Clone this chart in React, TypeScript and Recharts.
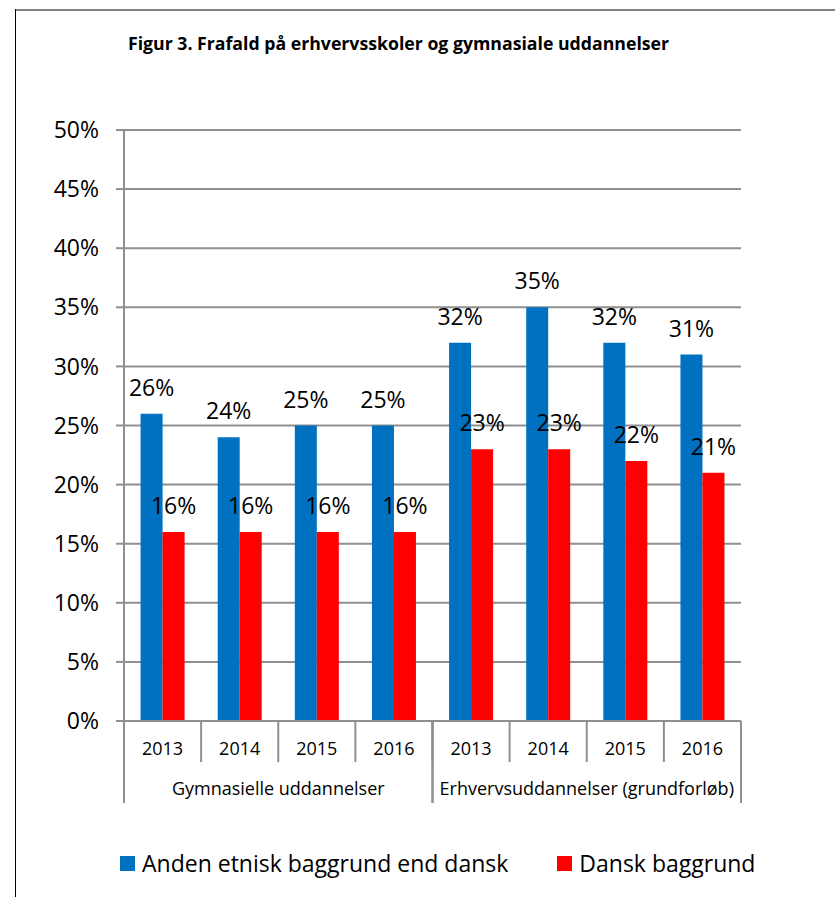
import React from "react";
import { BarChart, Bar, XAxis, YAxis, CartesianGrid, Legend, LabelList } from "recharts";

const title = "Figur 3. Frafald på erhvervsskoler og gymnasiale uddannelser";
const groups = ["Gymnasielle uddannelser", "Erhvervsuddannelser (grundforløb)"];
const years = ["2013", "2014", "2015", "2016"];
const andenValues = [26, 24, 25, 25, 32, 35, 32, 31];
const danskValues = [16, 16, 16, 16, 23, 23, 22, 21];
const yTicks = [0, 5, 10, 15, 20, 25, 30, 35, 40, 45, 50];
const seriesNames = ["Anden etnisk baggrund end dansk", "Dansk baggrund"];

const data = groups.flatMap((g, gi) =>
  years.map((y, yi) => ({
    key: `${gi}-${y}`,
    group: g,
    year: y,
    anden: andenValues[gi * years.length + yi],
    dansk: danskValues[gi * years.length + yi],
  }))
);

const GRID = "#8f8f8f";
const FONT = "'Open Sans', sans-serif";

function CategoryTick(props: any) {
  const { x, y, payload } = props;
  const index = props.index ?? payload?.index ?? 0;
  const half = payload?.offset || 38.6;
  const pos = index % years.length;
  const gi = Math.floor(index / years.length);
  const groupWidth = half * 2 * years.length;
  const left = x - half;
  return (
    <g>
      <text x={x} y={y + 33.5} textAnchor="middle" fontSize={18} fill="#000">
        {data[index].year}
      </text>
      <line x1={x + half} x2={x + half} y1={y} y2={y + 41} stroke={GRID} strokeWidth={2} />
      {pos === 0 && (
        <>
          <line x1={left} x2={left} y1={y} y2={y + 82} stroke={GRID} strokeWidth={2} />
          <text x={left + groupWidth / 2} y={y + 73.5} textAnchor="middle" fontSize={18} fill="#000">
            {groups[gi]}
          </text>
        </>
      )}
      {pos === years.length - 1 && (
        <line x1={x + half} x2={x + half} y1={y} y2={y + 82} stroke={GRID} strokeWidth={2} />
      )}
    </g>
  );
}

function renderLegend(props: any) {
  const { payload } = props;
  return (
    <div style={{ display: "flex", alignItems: "center", paddingLeft: 120, height: 36 }}>
      {(payload || []).map((e: any, i: number) => (
        <div key={i} style={{ display: "flex", alignItems: "center", marginLeft: i ? 49 : 0 }}>
          <span style={{ display: "inline-block", width: 15, height: 15, background: e.color, marginRight: 7 }} />
          <span style={{ fontSize: 23, lineHeight: "36px", color: "#000" }}>{e.value}</span>
        </div>
      ))}
    </div>
  );
}

export default function App() {
  return (
    <div style={{ position: "absolute", left: 0, top: 0, width: 835, height: 897, background: "#fff", fontFamily: FONT }}>
      <div style={{ position: "absolute", left: 15, top: 9, width: 820, height: 2, background: "#808080" }} />
      <div style={{ position: "absolute", left: 15, top: 9, width: 1, height: 888, background: "#000" }} />
      <div style={{ position: "absolute", left: 128, top: 31, fontSize: 17.7, fontWeight: 700, color: "#000", whiteSpace: "nowrap" }}>
        {title}
      </div>
      <BarChart
        width={835}
        height={897}
        data={data}
        margin={{ top: 130, right: 94, bottom: 94, left: 64 }}
        barCategoryGap="21.5%"
        barGap={0}
        style={{ position: "absolute", left: 0, top: 0 }}
      >
        <CartesianGrid vertical={false} stroke={GRID} strokeWidth={2} />
        <XAxis
          dataKey="key"
          height={82}
          interval={0}
          tickSize={0}
          tickMargin={0}
          tick={<CategoryTick />}
          axisLine={{ stroke: GRID, strokeWidth: 2 }}
          tickLine={false}
        />
        <YAxis
          width={60}
          domain={[0, 50]}
          ticks={yTicks}
          interval={0}
          tickFormatter={(v: number) => `${v}%`}
          tick={{ fontSize: 23, fill: "#000" }}
          tickSize={8}
          tickMargin={17}
          axisLine={{ stroke: GRID, strokeWidth: 2 }}
          tickLine={{ stroke: GRID, strokeWidth: 2 }}
        />
        <Legend
          verticalAlign="middle"
          align="center"
          layout="horizontal"
          wrapperStyle={{ position: "absolute", top: 845, left: 0, width: 835 }}
          content={renderLegend}
        />
        <Bar dataKey="anden" name={seriesNames[0]} fill="#0070C0" isAnimationActive={false}>
          <LabelList dataKey="anden" position="top" offset={18} fontSize={23} fill="#000" formatter={(v: any) => `${v}%`} />
        </Bar>
        <Bar dataKey="dansk" name={seriesNames[1]} fill="#FF0000" isAnimationActive={false}>
          <LabelList dataKey="dansk" position="top" offset={18} fontSize={23} fill="#000" formatter={(v: any) => `${v}%`} />
        </Bar>
      </BarChart>
    </div>
  );
}
